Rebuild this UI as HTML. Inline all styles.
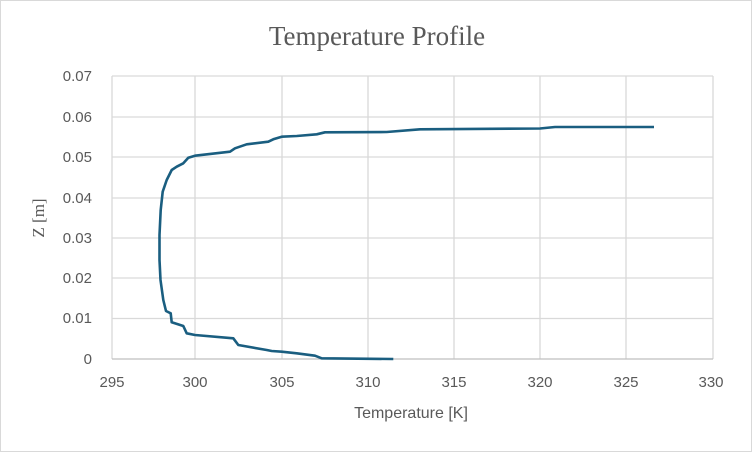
<!DOCTYPE html>
<html><head><style>
body{margin:0;background:#fff;}
svg{display:block;font-family:"Liberation Sans",sans-serif;}
</style></head><body>
<svg width="752" height="452" viewBox="0 0 752 452">
<rect x="0.5" y="0.5" width="751" height="451" fill="#fff" stroke="#d9d9d9"/>
<text x="377" y="45" text-anchor="middle" font-family="Liberation Serif,serif" font-size="27" fill="#595959">Temperature  Profile</text>
<g stroke="#d9d9d9" stroke-width="1.3">
<line x1="112" y1="76" x2="713" y2="76"/><line x1="112" y1="117" x2="713" y2="117"/>
<line x1="112" y1="157" x2="713" y2="157"/><line x1="112" y1="198" x2="713" y2="198"/>
<line x1="112" y1="238" x2="713" y2="238"/><line x1="112" y1="278" x2="713" y2="278"/>
<line x1="112" y1="318.5" x2="713" y2="318.5"/>
<line x1="112" y1="76" x2="112" y2="359"/><line x1="195" y1="76" x2="195" y2="359"/>
<line x1="282" y1="76" x2="282" y2="359"/><line x1="368" y1="76" x2="368" y2="359"/>
<line x1="454" y1="76" x2="454" y2="359"/><line x1="540" y1="76" x2="540" y2="359"/>
<line x1="626" y1="76" x2="626" y2="359"/><line x1="713" y1="76" x2="713" y2="359"/>
</g>
<line x1="112" y1="359" x2="713" y2="359" stroke="#bfbfbf" stroke-width="1.3"/>
<g font-size="15" fill="#595959" text-anchor="end">
<text x="92" y="81">0.07</text><text x="92" y="122">0.06</text><text x="92" y="162">0.05</text>
<text x="92" y="203">0.04</text><text x="92" y="243">0.03</text><text x="92" y="283">0.02</text>
<text x="92" y="323">0.01</text><text x="92" y="364">0</text>
</g>
<g font-size="15" fill="#595959" text-anchor="middle">
<text x="112" y="387">295</text><text x="195" y="387">300</text><text x="282" y="387">305</text>
<text x="368" y="387">310</text><text x="454" y="387">315</text><text x="540" y="387">320</text>
<text x="626" y="387">325</text><text x="711" y="387">330</text>
</g>
<text x="411" y="418" text-anchor="middle" font-size="16" fill="#595959">Temperature [K]</text>
<text transform="translate(44,218) rotate(-90)" text-anchor="middle" font-family="Liberation Serif,serif" font-size="17" fill="#595959">Z [m]</text>
<polyline fill="none" stroke="#1a5e80" stroke-width="2.6" stroke-linejoin="round" points="
654,127 555,127 540,128.5 420,129.3 386.7,132 325,132.3 316.7,134.3 296.7,136 281.7,136.7 273.3,139.3 268.3,141.7 246.7,144.3 235,148.3 230,151.7 195,155.7 188.3,157.7 183.3,163.3 176.7,166.7 171.7,170 166.7,180 162.7,191.7 160.7,210 159.5,235 159.5,260 160.5,280 163.3,300 166,311 170.7,313.3 171.7,322.3 183.3,326 186.7,333.3 195,335 233.3,338.3 238.3,345 266.7,350 271.7,351 281.7,351.7 296.7,353.3 315,355.7 321.7,358.3 393.3,359"/>
</svg>
</body></html>
